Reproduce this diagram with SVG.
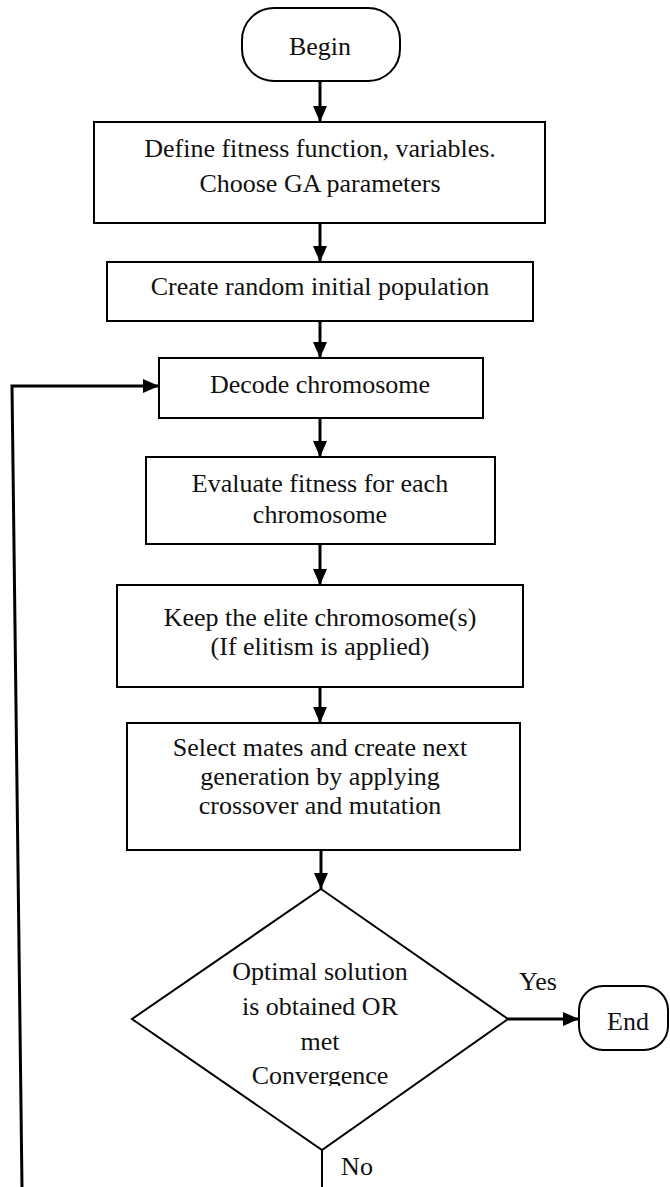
<svg xmlns="http://www.w3.org/2000/svg" width="670" height="1187" viewBox="0 0 670 1187">
<style>
.n{fill:#fff;stroke:#000;stroke-width:2}
.t{font-family:'Liberation Serif','DejaVu Serif',serif;font-size:26px;fill:#111;text-anchor:middle}
.c{fill:none;stroke:#000;stroke-width:3}
.c2{fill:none;stroke:#000;stroke-width:2}
</style>
<defs>
<marker id="ah" markerUnits="userSpaceOnUse" markerWidth="16" markerHeight="14" refX="16" refY="7" orient="auto">
<path d="M0,0 L16,7 L0,14 Z" fill="#000"/>
</marker>
<clipPath id="dclip"><rect x="0" y="0" width="670" height="1086"/></clipPath>
</defs>
<rect width="670" height="1187" fill="#fff"/>
<g id="connectors" font-family="Liberation Serif, serif">
<line class="c" x1="320" y1="81" x2="320" y2="122" marker-end="url(#ah)"/>
<line class="c" x1="320" y1="223" x2="320" y2="262" marker-end="url(#ah)"/>
<line class="c" x1="320" y1="321" x2="320" y2="358" marker-end="url(#ah)"/>
<line class="c" x1="320" y1="418" x2="320" y2="457" marker-end="url(#ah)"/>
<line class="c" x1="320" y1="544" x2="320" y2="585" marker-end="url(#ah)"/>
<line class="c" x1="320" y1="687" x2="320" y2="723" marker-end="url(#ah)"/>
<line class="c" x1="321" y1="850" x2="321" y2="889" marker-end="url(#ah)"/>
<line class="c" x1="508" y1="1019" x2="579" y2="1019" marker-end="url(#ah)"/>
<line class="c2" x1="322" y1="1150" x2="322" y2="1187"/>
<polyline class="c" points="22,1187 12,386 159,386" marker-end="url(#ah)"/>
<text class="t" x="538" y="990">Yes</text>
<text class="t" x="357" y="1175">No</text>
</g>
<g id="begin" font-family="Liberation Serif, serif">
<rect class="n" x="242" y="8" width="158" height="73" rx="32" ry="32"/>
<text class="t" x="320" y="55">Begin</text>
</g>
<g id="define" font-family="Liberation Serif, serif">
<rect class="n" x="94" y="122" width="451" height="101"/>
<text class="t" x="320" y="157">Define fitness function, variables.</text>
<text class="t" x="320" y="192">Choose GA parameters</text>
</g>
<g id="create" font-family="Liberation Serif, serif">
<rect class="n" x="107" y="262" width="426" height="59"/>
<text class="t" x="320" y="295">Create random initial population</text>
</g>
<g id="decode" font-family="Liberation Serif, serif">
<rect class="n" x="159" y="358" width="324" height="60"/>
<text class="t" x="320" y="393">Decode chromosome</text>
</g>
<g id="evaluate" font-family="Liberation Serif, serif">
<rect class="n" x="146" y="457" width="349" height="87"/>
<text class="t" x="320" y="492">Evaluate fitness for each</text>
<text class="t" x="320" y="523">chromosome</text>
</g>
<g id="keep" font-family="Liberation Serif, serif">
<rect class="n" x="117" y="585" width="406" height="102"/>
<text class="t" x="320" y="626">Keep the elite chromosome(s)</text>
<text class="t" x="320" y="655">(If elitism is applied)</text>
</g>
<g id="select" font-family="Liberation Serif, serif">
<rect class="n" x="127" y="723" width="393" height="127"/>
<text class="t" x="320" y="756">Select mates and create next</text>
<text class="t" x="320" y="785">generation by applying</text>
<text class="t" x="320" y="814">crossover and mutation</text>
</g>
<g id="decision" font-family="Liberation Serif, serif">
<polygon class="n" points="321,889 508,1019 322,1150 132,1019"/>
<text class="t" x="320" y="980">Optimal solution</text>
<text class="t" x="320" y="1015">is obtained OR</text>
<text class="t" x="320" y="1050">met</text>
<text class="t" x="320" y="1084" clip-path="url(#dclip)">Convergence</text>
</g>
<g id="end" font-family="Liberation Serif, serif">
<rect class="n" x="579" y="986" width="89" height="64" rx="24" ry="24"/>
<text class="t" x="628" y="1030">End</text>
</g>
</svg>
